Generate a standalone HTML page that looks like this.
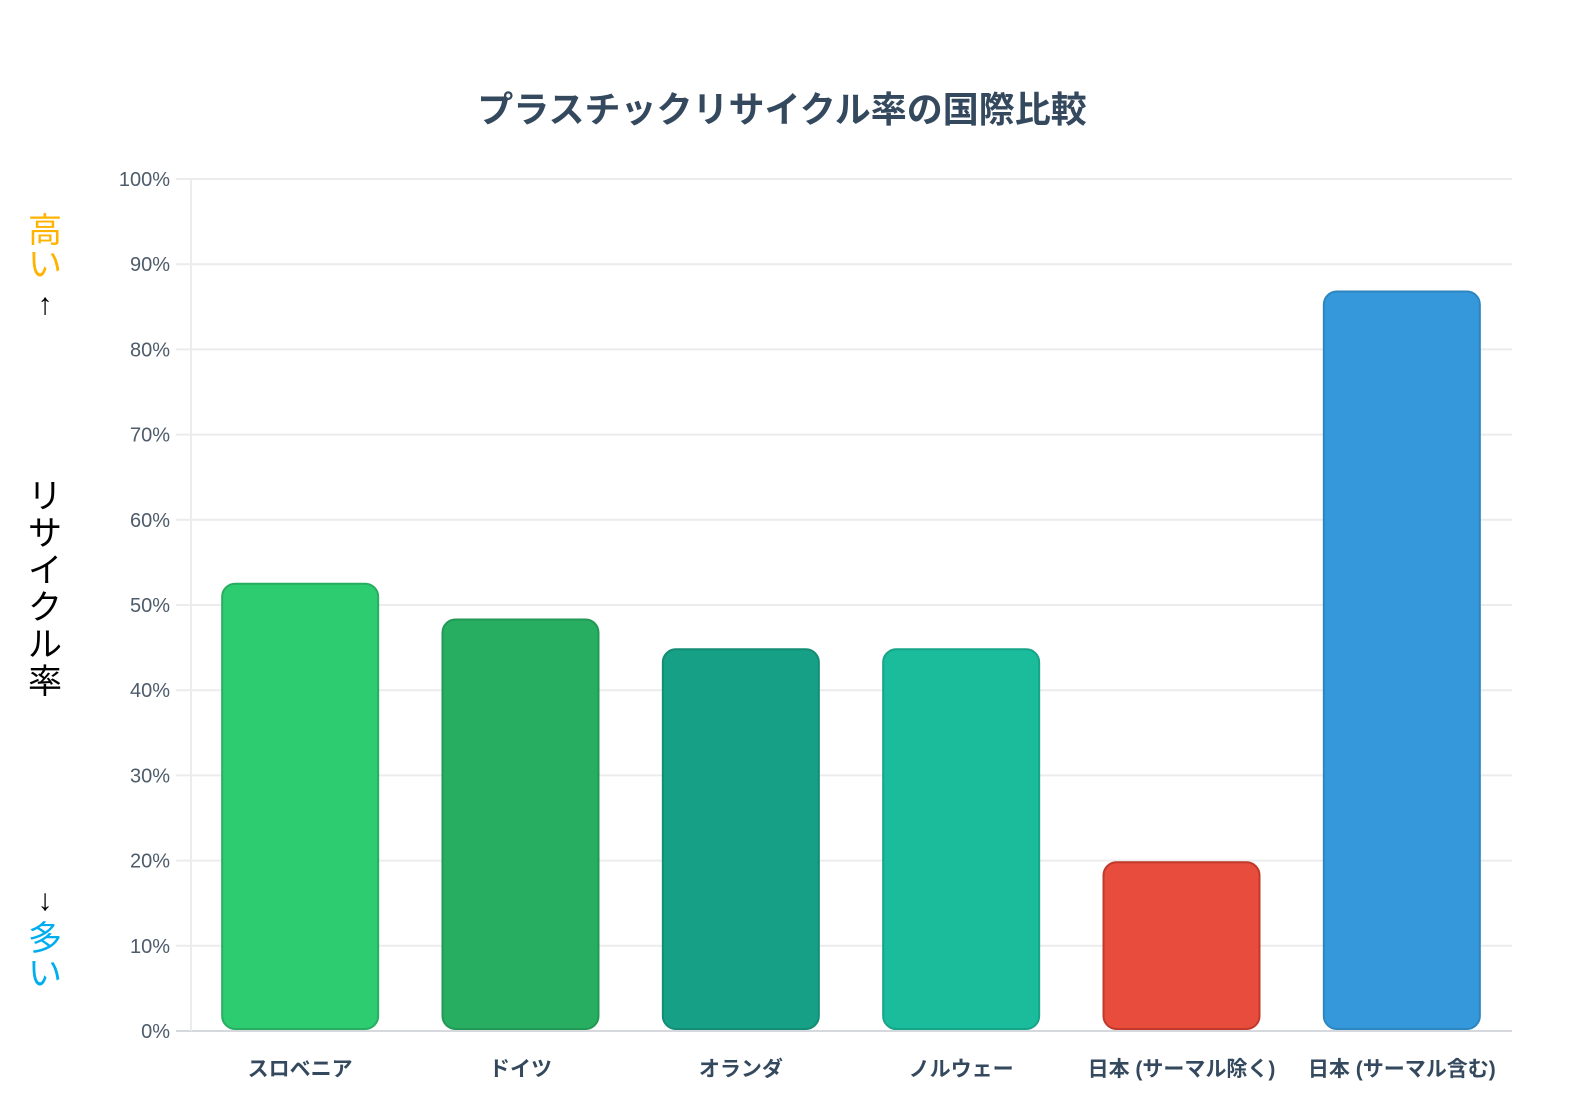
<!DOCTYPE html>
<html><head><meta charset="utf-8">
<style>
body{margin:0;background:#fff;width:1584px;height:1103px;overflow:hidden;font-family:"Liberation Sans","Noto Sans CJK JP",sans-serif;}
svg text{font-family:"Liberation Sans","Noto Sans CJK JP",sans-serif;}
</style></head>
<body>
<svg id="chart" width="1584" height="1103" xmlns="http://www.w3.org/2000/svg">
<text x="782" y="122" text-anchor="middle" font-size="36" font-weight="bold" fill="#34495e">プラスチックリサイクル率の国際比較</text>
<g font-size="34" text-anchor="middle">
<text x="45" y="242" fill="#ffb300">高</text>
<text x="45" y="276" fill="#ffb300">い</text>
<text x="45" y="314" fill="#000" font-size="30">↑</text>
<text fill="#000">
<tspan x="45" y="508">リ</tspan><tspan x="45" y="545">サ</tspan><tspan x="45" y="582">イ</tspan><tspan x="45" y="619">ク</tspan><tspan x="45" y="656">ル</tspan><tspan x="45" y="693">率</tspan></text>
<text x="45" y="910" fill="#000" font-size="30">↓</text>
<text x="45" y="950" fill="#00aeef">多</text>
<text x="45" y="985" fill="#00aeef">い</text>
</g>
<g id="grid"></g><g id="bars"></g><g id="labels"></g>
</svg>
<script>
const categories=["スロベニア","ドイツ","オランダ","ノルウェー","日本 (サーマル除く)","日本 (サーマル含む)"];
const values=[52.5,48.3,44.8,44.8,19.8,86.8];
const colors=["#2ecc71","#27ae60","#16a085","#1abc9c","#e74c3c","#3498db"];
const borders=["#27ae60","#229954","#138d75","#17a589","#c0392b","#2e86c1"];
const ticks=[0,10,20,30,40,50,60,70,80,90,100];
const NS="http://www.w3.org/2000/svg";
const x0=190,x1=1512,y0=1031,y1=179;
const y=v=>y0-(v/100)*(y0-y1);
const bw=(x1-x0)/categories.length;
const xc=i=>x0+bw*(i+0.5);
function mk(t,a,p){const e=document.createElementNS(NS,t);for(const k in a)e.setAttribute(k,a[k]);p.appendChild(e);return e;}
const grid=document.getElementById('grid'),bars=document.getElementById('bars'),labels=document.getElementById('labels');
ticks.forEach(t=>{
 const l=mk('line',{x1:x0-14,x2:x1,y1:y(t),y2:y(t),stroke:t===0?'#d5d8dc':'#ececec','stroke-width':2},grid);
 
 
 const tx=mk('text',{x:170,y:y(t)+7,'text-anchor':'end','font-size':20,fill:'#4d5b6a'},grid);
 tx.textContent=t+'%';
 
 
});
const ax=mk('line',{x1:x0+1,x2:x0+1,y1:y1,y2:y0,stroke:'#ececec','stroke-width':2},grid);


categories.forEach((c,i)=>{
 const w=156,top=y(values[i]);
 const r=mk('rect',{x:xc(i)-w/2,y:top,width:w,height:(y0-2)-top,rx:13,fill:colors[i],stroke:borders[i],'stroke-width':2},bars);
 
 
 const t=mk('text',{x:xc(i),y:1076,'text-anchor':'middle','font-size':21,'font-weight':'bold',fill:'#34495e'},labels);
 t.textContent=c;
 
 
});
</script>
</body></html>
